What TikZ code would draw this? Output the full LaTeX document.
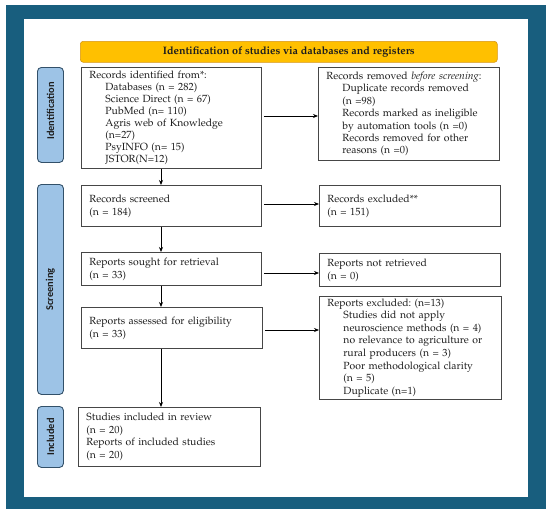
\documentclass[tikz,border=0pt]{standalone}
\usepackage{fontspec}
\newfontfamily\labelfont{Carlito}
\usepackage[T1]{fontenc}
\usepackage{mathpazo}
\usetikzlibrary{arrows.meta}
\definecolor{frameblue}{RGB}{24,94,126}
\definecolor{banneryellow}{RGB}{255,192,0}
\definecolor{bannerline}{RGB}{214,150,20}
\definecolor{labelblue}{RGB}{157,195,230}
\definecolor{labelline}{RGB}{50,80,105}
\definecolor{boxline}{RGB}{70,70,70}
\definecolor{txt}{RGB}{30,30,30}
\tikzset{
  box/.style={draw=boxline, line width=0.9pt, fill=white, anchor=north west,
    inner xsep=8pt, inner ysep=0pt, align=left, text=txt,
    font=\fontsize{10.4}{12}\selectfont},
  sidelabel/.style={draw=labelline, fill=labelblue, line width=0.9pt,
    rounded corners=4pt, anchor=north west, inner sep=0pt,
    minimum width=26, text=txt},
  sidetext/.style={rotate=90, font=\labelfont\bfseries\fontsize{10.4}{12}\selectfont, text=txt},
  banner/.style={draw=bannerline, fill=banneryellow, line width=0.6pt,
    rounded corners=3pt, anchor=north west, inner sep=0pt, text=txt,
    font=\bfseries\fontsize{10.8}{12}\selectfont},
  flow/.style={draw=black, line width=0.8pt, -{Stealth[length=5pt,width=4pt]}}
}
\newcommand{\ind}{\hspace*{16pt}}
\begin{document}
\frenchspacing
\begin{tikzpicture}[x=1pt,y=-1pt]
\useasboundingbox (0,0) rectangle (550,514);
\fill[frameblue] (6,5) rectangle (546,509);
\fill[white] (24,19) rectangle (528,497);

\node[banner, minimum width=417, minimum height=21] (ban) at (80,41)
  {Identification of studies via databases and registers};

\node[sidelabel, minimum height=95] (lid) at (37,67) {};
\node[sidetext] (tid) at ([yshift=4pt]lid.center) {Identification};
\node[sidelabel, minimum height=210] (lsc) at (37,184) {};
\node[sidetext] (tsc) at (lsc.center) {Screening};
\node[sidelabel, minimum height=61] (lin) at (37,406) {};
\node[sidetext] (tin) at (lin.center) {Included};

\node[box, text width=164, minimum height=101] (b1) at (81,67)
  {Records identified from*:\\
   \ind Databases (n = 282)\\
   \ind Science Direct (n = 67)\\
   \ind PubMed (n= 110)\\
   \ind Agris web of Knowledge\\
   \ind (n=27)\\
   \ind PsyINFO (n= 15)\\
   \ind JSTOR(N=12)};
\node[box, text width=165, minimum height=93, font=\fontsize{10.4}{12.4}\selectfont] (b2) at (318,67)
  {Records removed \textit{before screening}:\\
   \ind Duplicate records removed\\
   \ind (n =98)\\
   \ind Records marked as ineligible\\
   \ind by automation tools (n =0)\\
   \ind Records removed for other\\
   \ind reasons (n =0)};
\node[box, text width=164, minimum height=41, font=\fontsize{10.4}{13}\selectfont] (b3) at (81,185)
  {Records screened\\(n = 184)};
\node[box, text width=165, minimum height=41, font=\fontsize{10.4}{13}\selectfont] (b4) at (319,185)
  {Records excluded**\\(n = 151)};
\node[box, text width=164, minimum height=33, font=\fontsize{10.4}{13}\selectfont] (b5) at (81,252)
  {Reports sought for retrieval\\(n = 33)};
\node[box, text width=165, minimum height=33, font=\fontsize{10.4}{13}\selectfont] (b6) at (319,253)
  {Reports not retrieved\\(n = 0)};
\node[box, text width=165, minimum height=41, font=\fontsize{10.4}{13}\selectfont] (b7) at (81,307)
  {Reports assessed for eligibility\\(n = 33)};
\node[box, text width=166, minimum height=103, font=\fontsize{10.4}{12.6}\selectfont] (b8) at (319,296)
  {Reports excluded: (n=13)\\
   \ind Studies did not apply\\
   \ind neuroscience methods (n = 4)\\
   \ind no relevance to agriculture or\\
   \ind rural producers (n = 3)\\
   \ind Poor methodological clarity\\
   \ind (n = 5)\\
   \ind Duplicate (n=1)};
\node[box, text width=166, minimum height=59, font=\fontsize{10.4}{12.5}\selectfont] (b9) at (78,407)
  {Studies included in review\\(n = 20)\\Reports of included studies\\(n = 20)};

\coordinate (vx) at (161,0);
\coordinate (h1) at (0,116);
\coordinate (h2) at (0,204);
\coordinate (h3) at (0,273);
\coordinate (h4) at (0,330);

\draw[flow] (b1.south -| vx) -- (b3.north -| vx);
\draw[flow] (b3.south -| vx) -- (b5.north -| vx);
\draw[flow] (b5.south -| vx) -- (b7.north -| vx);
\draw[flow] (b7.south -| vx) -- (b9.north -| vx);

\draw[flow] ([xshift=2pt]b1.east |- h1) -- (b2.west |- h1);
\draw[flow] ([xshift=2pt]b3.east |- h2) -- (b4.west |- h2);
\draw[flow] ([xshift=2pt]b5.east |- h3) -- (b6.west |- h3);
\draw[flow] ([xshift=2pt]b7.east |- h4) -- (b8.west |- h4);
\end{tikzpicture}
\end{document}
